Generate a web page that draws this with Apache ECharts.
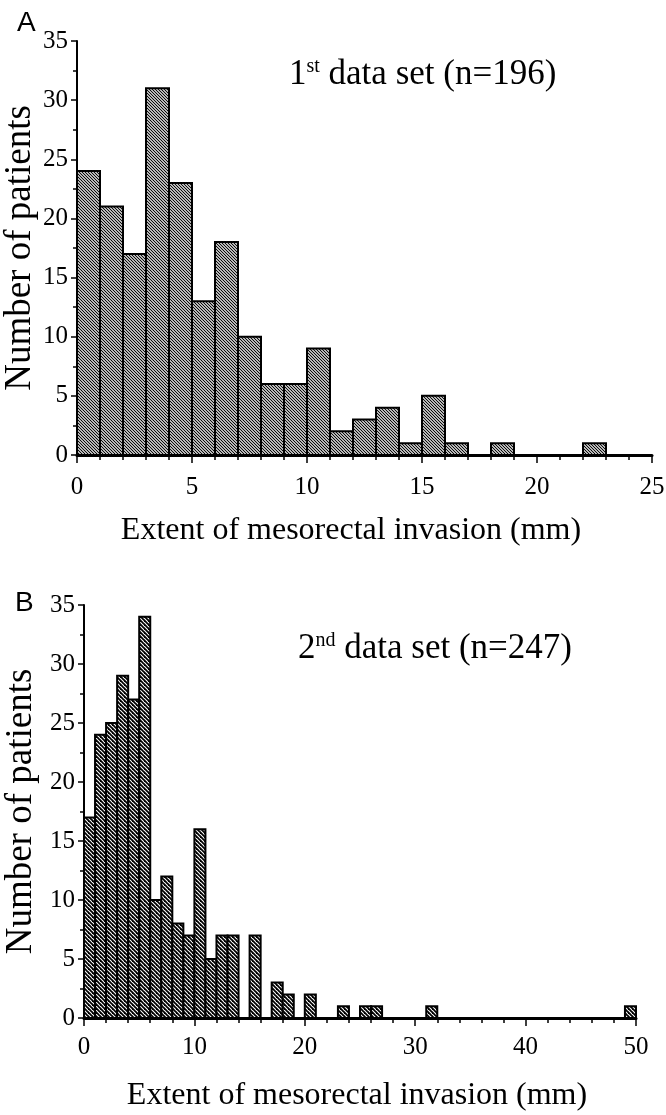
<!DOCTYPE html>
<html><head><meta charset="utf-8">
<script src="https://cdn.jsdelivr.net/npm/echarts@6/dist/echarts.min.js"></script>
<style>html,body{margin:0;padding:0;background:#fff}#c{width:666px;height:1115px}</style>
</head><body><div id="c"></div>
<script>
// ---- data (bin start in mm, count of patients per 1-mm bin) ----
const binStartsA = [0,1,2,3,4,5,6,7,8,9,10,11,12,13,14,15,16,17,18,19,20,21,22];
const countsA    = [24,21,17,31,23,13,18,10,6,6,9,2,3,4,1,5,1,0,1,0,0,0,1];
const binStartsB = [0,1,2,3,4,5,6,7,8,9,10,11,12,13,14,15,16,17,18,19,20,21,22,23,24,25,26,27,28,29,30,31,32,33,34,35,36,37,38,39,40,41,42,43,44,45,46,47,48,49];
const countsB    = [17,24,25,29,27,34,10,12,8,7,16,5,7,7,0,7,0,3,2,0,2,0,0,1,0,1,1,0,0,0,0,1,0,0,0,0,0,0,0,0,0,0,0,0,0,0,0,0,0,1];
const binWidth = 1;
const titleA = ['1', 'st', ' data set (n=196)'];
const titleB = ['2', 'nd', ' data set (n=247)'];
const xNameText = 'Extent of mesorectal invasion (mm)';
const yNameText = 'Number of patients';

function hatch(size, w) {
  const c = document.createElement('canvas'); c.width = c.height = size;
  const g = c.getContext('2d'); g.fillStyle = '#fff'; g.fillRect(0, 0, size, size);
  g.strokeStyle = '#000'; g.lineWidth = w;
  for (const k of [-size, 0, size]) { g.beginPath(); g.moveTo(k - 1, -1); g.lineTo(k + size + 1, size + 1); g.stroke(); }
  return c;
}
const patA = {image: hatch(3, 1.1), repeat: 'repeat'};
const patB = {image: hatch(4, 1.8), repeat: 'repeat'};

function renderer(pat) {
  return function (params, api) {
    const x0 = api.value(0), h = api.value(1);
    if (!h) return null;
    const p0 = api.coord([x0, h]);
    const p1 = api.coord([x0 + binWidth, 0]);
    return {type: 'rect', shape: {x: p0[0], y: p0[1], width: p1[0] - p0[0], height: p1[1] - p0[1]},
      style: {fill: pat, stroke: '#000', lineWidth: 2}};
  };
}

const serif = 'Liberation Serif';
const lbl = {fontFamily: serif, fontSize: 25, color: '#000'};
function yAxis(gi, gap) {
  return {type: 'value', gridIndex: gi, min: 0, max: 35, interval: 5,
    axisLine: {show: true, lineStyle: {color: '#000', width: 2}},
    axisTick: {show: true, length: 6, lineStyle: {color: '#000', width: 1.5}},
    minorTick: {show: true, splitNumber: 2, length: 4, lineStyle: {color: '#000', width: 1.5}},
    splitLine: {show: false},
    axisLabel: Object.assign({margin: 9, padding: [8, 0, 0, 0]}, lbl),
    name: yNameText, nameLocation: 'middle', nameGap: gap, nameMoveOverlap: false,
    nameTextStyle: {fontFamily: serif, fontSize: 37, color: '#000'}};
}
function xAxis(gi, max, interval, gap, margin, pad) {
  return {type: 'value', gridIndex: gi, min: 0, max: max, interval: interval,
    axisLine: {show: true, onZero: false, lineStyle: {color: '#000', width: 3}},
    axisTick: {show: true, length: 8, lineStyle: {color: '#000', width: 1.5}},
    minorTick: {show: true, splitNumber: 5, length: 5, lineStyle: {color: '#000', width: 1.5}},
    splitLine: {show: false},
    axisLabel: Object.assign({margin: margin}, lbl),
    name: xNameText, nameLocation: 'middle', nameGap: gap, nameMoveOverlap: false,
    nameTextStyle: {fontFamily: serif, fontSize: 32, color: '#000', padding: pad}};
}
const rich = {n: {fontFamily: serif, fontSize: 35, fontWeight: 'normal', color: '#000', lineHeight: 35},
  s: {fontFamily: serif, fontSize: 20, fontWeight: 'normal', color: '#000', verticalAlign: 'top', lineHeight: 35, padding: [0, 0, 12, 0]}};
function ttl(parts) { return '{n|' + parts[0] + '}{s|' + parts[1] + '}{n|' + parts[2] + '}'; }

const chart = echarts.init(document.getElementById('c'), null, {renderer: 'canvas'});
chart.setOption({
  animation: false,
  backgroundColor: '#fff',
  title: [
    {text: 'A', left: 17, top: 9, padding: 0, textStyle: {fontFamily: 'Liberation Sans', fontSize: 28, fontWeight: 'normal', color: '#000'}},
    {text: ttl(titleA), left: 289, top: 57, padding: 0, textStyle: {fontWeight: 'normal', rich: rich}},
    {text: 'B', left: 15, top: 589, padding: 0, textStyle: {fontFamily: 'Liberation Sans', fontSize: 28, fontWeight: 'normal', color: '#000'}},
    {text: ttl(titleB), left: 298, top: 631, padding: 0, textStyle: {fontWeight: 'normal', rich: rich}}
  ],
  grid: [
    {left: 77, top: 41, width: 575, height: 414, outerBoundsMode: 'none', containLabel: false},
    {left: 84, top: 605, width: 552, height: 413, outerBoundsMode: 'none', containLabel: false}
  ],
  xAxis: [xAxis(0, 25, 5, 60, 20, [0, 27, 0, 0]), xAxis(1, 50, 10, 62, 17, [0, 6, 0, 0])],
  yAxis: [yAxis(0, 38), yAxis(1, 44)],
  series: [
    {type: 'custom', xAxisIndex: 0, yAxisIndex: 0, renderItem: renderer(patA),
      encode: {x: 0, y: 1}, data: binStartsA.map((s, i) => [s, countsA[i]])},
    {type: 'custom', xAxisIndex: 1, yAxisIndex: 1, renderItem: renderer(patB),
      encode: {x: 0, y: 1}, data: binStartsB.map((s, i) => [s, countsB[i]])}
  ]
});
</script></body></html>
